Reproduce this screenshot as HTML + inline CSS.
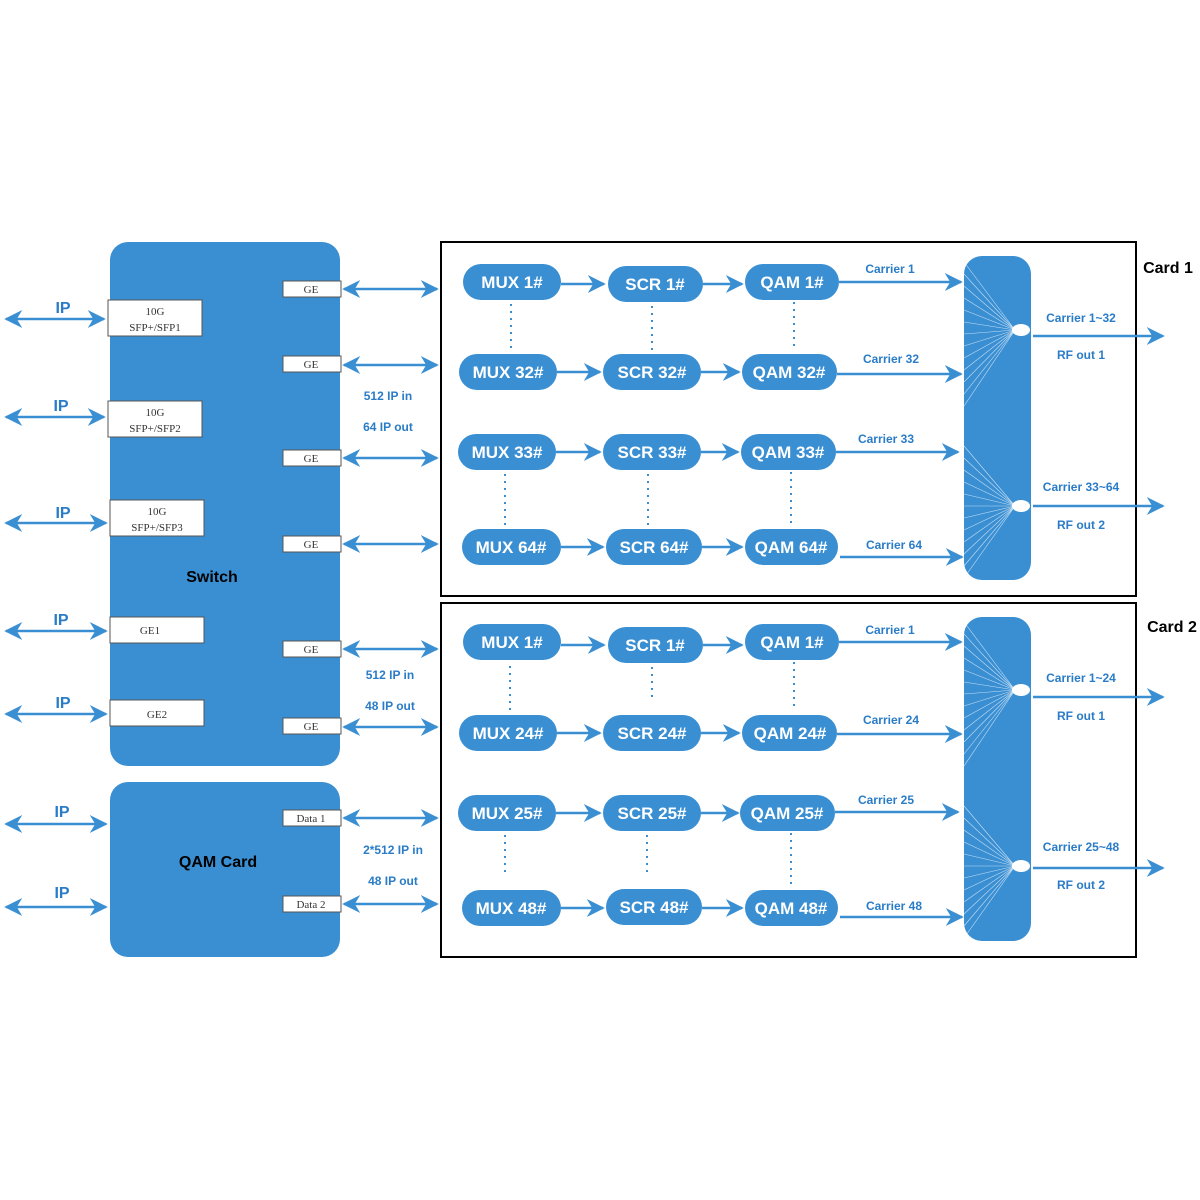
<!DOCTYPE html>
<html><head><meta charset="utf-8"><style>
html,body{margin:0;padding:0;background:#fff;}
svg{display:block;}
.p{fill:#3a8fd3;}
.pt{font-family:"Liberation Sans",sans-serif;font-weight:bold;font-size:17px;fill:#fff;text-anchor:middle;}
.bl{font-family:"Liberation Sans",sans-serif;font-weight:bold;font-size:12px;fill:#2a7cc7;text-anchor:middle;}
.ip{font-family:"Liberation Sans",sans-serif;font-weight:bold;font-size:16px;fill:#2a7cc7;text-anchor:middle;}
.ln{stroke:#3a8fd3;stroke-width:2.5;fill:none;}
.port{fill:#fff;stroke:#555;stroke-width:1;}
.pl{font-family:"Liberation Serif",serif;font-size:11px;fill:#333;text-anchor:middle;}
.dot{stroke:#3a8fd3;stroke-width:2;stroke-dasharray:2 5;fill:none;}
.fan{stroke:#fff;stroke-width:0.6;opacity:0.7;fill:none;}
.blk{font-family:"Liberation Sans",sans-serif;font-weight:bold;fill:#000;text-anchor:middle;}
</style></head><body>
<svg width="1200" height="1200" viewBox="0 0 1200 1200" xmlns="http://www.w3.org/2000/svg">
<defs>
<marker id="a" viewBox="0 0 20 20" refX="18" refY="10" markerWidth="18" markerHeight="18" markerUnits="userSpaceOnUse" orient="auto-start-reverse">
<path d="M0 0 L20 10 L0 20 L6 10 Z" fill="#3a8fd3"/>
</marker>
</defs>

<!-- Switch -->
<rect x="110" y="242" width="230" height="524" rx="18" class="p"/>
<text x="212" y="582" class="blk" font-size="16">Switch</text>
<rect x="110" y="782" width="230" height="175" rx="18" class="p"/>
<text x="218" y="867" class="blk" font-size="16">QAM Card</text>

<!-- left ports -->
<rect x="108" y="300" width="94" height="36" class="port"/><text x="155" y="315" class="pl">10G</text><text x="155" y="331" class="pl">SFP+/SFP1</text>
<rect x="108" y="401" width="94" height="36" class="port"/><text x="155" y="416" class="pl">10G</text><text x="155" y="432" class="pl">SFP+/SFP2</text>
<rect x="110" y="500" width="94" height="36" class="port"/><text x="157" y="515" class="pl">10G</text><text x="157" y="531" class="pl">SFP+/SFP3</text>
<rect x="110" y="617" width="94" height="26" class="port"/><text x="150" y="634" class="pl" text-anchor="start">GE1</text>
<rect x="110" y="700" width="94" height="26" class="port"/><text x="157" y="718" class="pl">GE2</text>

<!-- right ports -->
<rect x="283" y="281" width="58" height="16" class="port"/><text x="311" y="293" class="pl">GE</text>
<rect x="283" y="356" width="58" height="16" class="port"/><text x="311" y="368" class="pl">GE</text>
<rect x="283" y="450" width="58" height="16" class="port"/><text x="311" y="462" class="pl">GE</text>
<rect x="283" y="536" width="58" height="16" class="port"/><text x="311" y="548" class="pl">GE</text>
<rect x="283" y="641" width="58" height="16" class="port"/><text x="311" y="653" class="pl">GE</text>
<rect x="283" y="718" width="58" height="16" class="port"/><text x="311" y="730" class="pl">GE</text>
<rect x="283" y="810" width="58" height="16" class="port"/><text x="311" y="822" class="pl">Data 1</text>
<rect x="283" y="896" width="58" height="16" class="port"/><text x="311" y="908" class="pl">Data 2</text>

<!-- IP arrows -->
<g class="ln">
<line x1="6" y1="319" x2="104" y2="319" marker-start="url(#a)" marker-end="url(#a)"/>
<line x1="6" y1="417" x2="104" y2="417" marker-start="url(#a)" marker-end="url(#a)"/>
<line x1="6" y1="523" x2="106" y2="523" marker-start="url(#a)" marker-end="url(#a)"/>
<line x1="6" y1="631" x2="106" y2="631" marker-start="url(#a)" marker-end="url(#a)"/>
<line x1="6" y1="714" x2="106" y2="714" marker-start="url(#a)" marker-end="url(#a)"/>
<line x1="6" y1="824" x2="106" y2="824" marker-start="url(#a)" marker-end="url(#a)"/>
<line x1="6" y1="907" x2="106" y2="907" marker-start="url(#a)" marker-end="url(#a)"/>
<line x1="344" y1="289" x2="437" y2="289" marker-start="url(#a)" marker-end="url(#a)"/>
<line x1="344" y1="365" x2="437" y2="365" marker-start="url(#a)" marker-end="url(#a)"/>
<line x1="344" y1="458" x2="437" y2="458" marker-start="url(#a)" marker-end="url(#a)"/>
<line x1="344" y1="544" x2="437" y2="544" marker-start="url(#a)" marker-end="url(#a)"/>
<line x1="344" y1="649" x2="437" y2="649" marker-start="url(#a)" marker-end="url(#a)"/>
<line x1="344" y1="727" x2="437" y2="727" marker-start="url(#a)" marker-end="url(#a)"/>
<line x1="344" y1="818" x2="437" y2="818" marker-start="url(#a)" marker-end="url(#a)"/>
<line x1="344" y1="904" x2="437" y2="904" marker-start="url(#a)" marker-end="url(#a)"/>
</g>
<text x="63" y="313" class="ip">IP</text>
<text x="61" y="411" class="ip">IP</text>
<text x="63" y="518" class="ip">IP</text>
<text x="61" y="625" class="ip">IP</text>
<text x="63" y="708" class="ip">IP</text>
<text x="62" y="817" class="ip">IP</text>
<text x="62" y="898" class="ip">IP</text>
<text x="388" y="400" class="bl">512 IP in</text>
<text x="388" y="431" class="bl">64 IP out</text>
<text x="390" y="679" class="bl">512 IP in</text>
<text x="390" y="710" class="bl">48 IP out</text>
<text x="393" y="854" class="bl">2*512 IP in</text>
<text x="393" y="885" class="bl">48 IP out</text>

<!-- Cards -->
<rect x="441" y="242" width="695" height="354" fill="none" stroke="#000" stroke-width="2"/>
<rect x="441" y="603" width="695" height="354" fill="none" stroke="#000" stroke-width="2"/>
<text x="1168" y="273" class="blk" font-size="16">Card 1</text>
<text x="1172" y="632" class="blk" font-size="16">Card 2</text>

<!-- Card 1 pills -->
<rect x="463" y="264" width="98" height="36" rx="18" class="p"/><text x="512" y="288" class="pt">MUX 1#</text>
<rect x="608" y="266" width="95" height="36" rx="18" class="p"/><text x="655" y="290" class="pt">SCR 1#</text>
<rect x="745" y="264" width="94" height="36" rx="18" class="p"/><text x="792" y="288" class="pt">QAM 1#</text>
<rect x="459" y="354" width="98" height="36" rx="18" class="p"/><text x="508" y="378" class="pt">MUX 32#</text>
<rect x="603" y="354" width="98" height="36" rx="18" class="p"/><text x="652" y="378" class="pt">SCR 32#</text>
<rect x="742" y="354" width="95" height="36" rx="18" class="p"/><text x="789" y="378" class="pt">QAM 32#</text>
<rect x="458" y="434" width="98" height="36" rx="18" class="p"/><text x="507" y="458" class="pt">MUX 33#</text>
<rect x="603" y="434" width="98" height="36" rx="18" class="p"/><text x="652" y="458" class="pt">SCR 33#</text>
<rect x="741" y="434" width="95" height="36" rx="18" class="p"/><text x="788" y="458" class="pt">QAM 33#</text>
<rect x="462" y="529" width="99" height="36" rx="18" class="p"/><text x="511" y="553" class="pt">MUX 64#</text>
<rect x="606" y="529" width="96" height="36" rx="18" class="p"/><text x="654" y="553" class="pt">SCR 64#</text>
<rect x="745" y="529" width="93" height="36" rx="18" class="p"/><text x="791" y="553" class="pt">QAM 64#</text>

<!-- Card 2 pills -->
<rect x="463" y="624" width="98" height="36" rx="18" class="p"/><text x="512" y="648" class="pt">MUX 1#</text>
<rect x="608" y="627" width="95" height="36" rx="18" class="p"/><text x="655" y="651" class="pt">SCR 1#</text>
<rect x="745" y="624" width="94" height="36" rx="18" class="p"/><text x="792" y="648" class="pt">QAM 1#</text>
<rect x="459" y="715" width="98" height="36" rx="18" class="p"/><text x="508" y="739" class="pt">MUX 24#</text>
<rect x="603" y="715" width="98" height="36" rx="18" class="p"/><text x="652" y="739" class="pt">SCR 24#</text>
<rect x="742" y="715" width="95" height="36" rx="18" class="p"/><text x="790" y="739" class="pt">QAM 24#</text>
<rect x="458" y="795" width="98" height="36" rx="18" class="p"/><text x="507" y="819" class="pt">MUX 25#</text>
<rect x="603" y="795" width="98" height="36" rx="18" class="p"/><text x="652" y="819" class="pt">SCR 25#</text>
<rect x="740" y="795" width="95" height="36" rx="18" class="p"/><text x="787" y="819" class="pt">QAM 25#</text>
<rect x="462" y="890" width="99" height="36" rx="18" class="p"/><text x="511" y="914" class="pt">MUX 48#</text>
<rect x="606" y="889" width="96" height="36" rx="18" class="p"/><text x="654" y="913" class="pt">SCR 48#</text>
<rect x="745" y="890" width="93" height="36" rx="18" class="p"/><text x="791" y="914" class="pt">QAM 48#</text>

<!-- chain arrows -->
<g class="ln">
<line x1="561" y1="284" x2="604" y2="284" marker-end="url(#a)"/>
<line x1="703" y1="284" x2="742" y2="284" marker-end="url(#a)"/>
<line x1="557" y1="372" x2="600" y2="372" marker-end="url(#a)"/>
<line x1="701" y1="372" x2="739" y2="372" marker-end="url(#a)"/>
<line x1="556" y1="452" x2="600" y2="452" marker-end="url(#a)"/>
<line x1="701" y1="452" x2="738" y2="452" marker-end="url(#a)"/>
<line x1="561" y1="547" x2="603" y2="547" marker-end="url(#a)"/>
<line x1="702" y1="547" x2="742" y2="547" marker-end="url(#a)"/>
<line x1="561" y1="645" x2="604" y2="645" marker-end="url(#a)"/>
<line x1="703" y1="645" x2="742" y2="645" marker-end="url(#a)"/>
<line x1="557" y1="733" x2="600" y2="733" marker-end="url(#a)"/>
<line x1="701" y1="733" x2="739" y2="733" marker-end="url(#a)"/>
<line x1="556" y1="813" x2="600" y2="813" marker-end="url(#a)"/>
<line x1="701" y1="813" x2="738" y2="813" marker-end="url(#a)"/>
<line x1="561" y1="908" x2="603" y2="908" marker-end="url(#a)"/>
<line x1="702" y1="908" x2="742" y2="908" marker-end="url(#a)"/>
<!-- carriers -->
<line x1="839" y1="282" x2="961" y2="282" marker-end="url(#a)"/>
<line x1="837" y1="374" x2="961" y2="374" marker-end="url(#a)"/>
<line x1="836" y1="452" x2="958" y2="452" marker-end="url(#a)"/>
<line x1="840" y1="557" x2="962" y2="557" marker-end="url(#a)"/>
<line x1="839" y1="642" x2="961" y2="642" marker-end="url(#a)"/>
<line x1="837" y1="734" x2="961" y2="734" marker-end="url(#a)"/>
<line x1="835" y1="812" x2="958" y2="812" marker-end="url(#a)"/>
<line x1="840" y1="917" x2="962" y2="917" marker-end="url(#a)"/>
<!-- outputs -->
<line x1="1033" y1="336" x2="1163" y2="336" marker-end="url(#a)"/>
<line x1="1033" y1="506" x2="1163" y2="506" marker-end="url(#a)"/>
<line x1="1033" y1="697" x2="1163" y2="697" marker-end="url(#a)"/>
<line x1="1033" y1="868" x2="1163" y2="868" marker-end="url(#a)"/>
</g>

<!-- dotted -->
<g class="dot">
<line x1="511" y1="304" x2="511" y2="350"/><line x1="652" y1="306" x2="652" y2="350"/><line x1="794" y1="302" x2="794" y2="350"/>
<line x1="505" y1="474" x2="505" y2="527"/><line x1="648" y1="474" x2="648" y2="527"/><line x1="791" y1="472" x2="791" y2="527"/>
<line x1="510" y1="666" x2="510" y2="710"/><line x1="652" y1="667" x2="652" y2="700"/><line x1="794" y1="662" x2="794" y2="710"/>
<line x1="505" y1="835" x2="505" y2="876"/><line x1="647" y1="835" x2="647" y2="876"/><line x1="791" y1="833" x2="791" y2="887"/>
</g>

<text x="890" y="273" class="bl">Carrier 1</text>
<text x="891" y="363" class="bl">Carrier 32</text>
<text x="886" y="443" class="bl">Carrier 33</text>
<text x="894" y="549" class="bl">Carrier 64</text>
<text x="890" y="634" class="bl">Carrier 1</text>
<text x="891" y="724" class="bl">Carrier 24</text>
<text x="886" y="804" class="bl">Carrier 25</text>
<text x="894" y="910" class="bl">Carrier 48</text>

<!-- combiners -->
<rect x="964" y="256" width="67" height="324" rx="18" class="p"/>
<rect x="964" y="617" width="67" height="324" rx="18" class="p"/>
<path class="fan" d="M964 262L1015 330M964 274L1015 330M964 286L1015 330M964 298L1015 330M964 310L1015 330M964 322L1015 330M964 334L1015 330M964 346L1015 330M964 358L1015 330M964 370L1015 330M964 382L1015 330M964 394L1015 330M964 406L1015 330
M964 446L1015 506M964 458L1015 506M964 470L1015 506M964 482L1015 506M964 494L1015 506M964 506L1015 506M964 518L1015 506M964 530L1015 506M964 542L1015 506M964 554L1015 506M964 566L1015 506M964 578L1015 506
M964 622L1015 690M964 634L1015 690M964 646L1015 690M964 658L1015 690M964 670L1015 690M964 682L1015 690M964 694L1015 690M964 706L1015 690M964 718L1015 690M964 730L1015 690M964 742L1015 690M964 754L1015 690M964 766L1015 690
M964 806L1015 866M964 818L1015 866M964 830L1015 866M964 842L1015 866M964 854L1015 866M964 866L1015 866M964 878L1015 866M964 890L1015 866M964 902L1015 866M964 914L1015 866M964 926L1015 866M964 938L1015 866"/>
<ellipse cx="1021" cy="330" rx="9" ry="6" fill="#fff"/>
<ellipse cx="1021" cy="506" rx="9" ry="6" fill="#fff"/>
<ellipse cx="1021" cy="690" rx="9" ry="6" fill="#fff"/>
<ellipse cx="1021" cy="866" rx="9" ry="6" fill="#fff"/>

<text x="1081" y="322" class="bl">Carrier 1~32</text>
<text x="1081" y="359" class="bl">RF out 1</text>
<text x="1081" y="491" class="bl">Carrier 33~64</text>
<text x="1081" y="529" class="bl">RF out 2</text>
<text x="1081" y="682" class="bl">Carrier 1~24</text>
<text x="1081" y="720" class="bl">RF out 1</text>
<text x="1081" y="851" class="bl">Carrier 25~48</text>
<text x="1081" y="889" class="bl">RF out 2</text>
</svg>
</body></html>
